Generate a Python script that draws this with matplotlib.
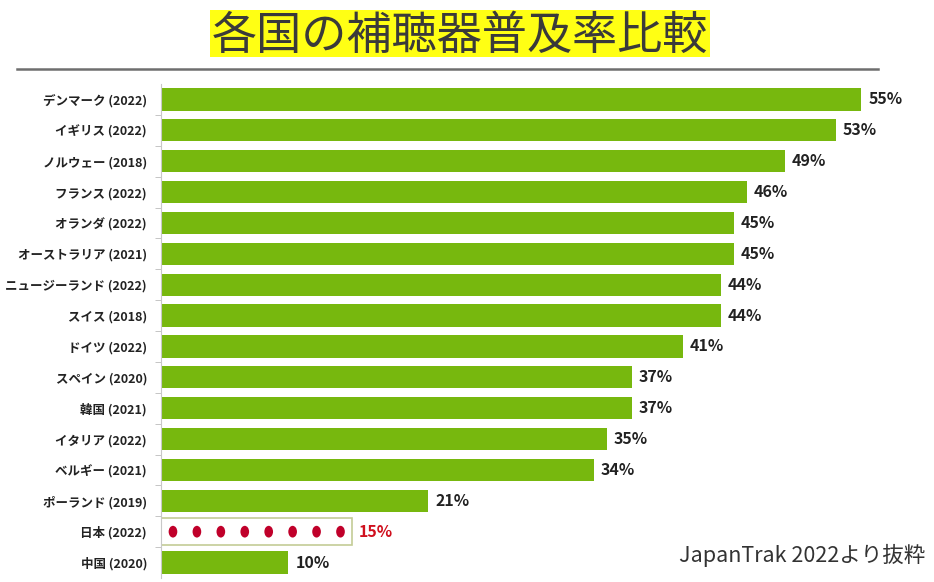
import numpy as np
import matplotlib.pyplot as plt
from matplotlib.patches import Rectangle, Ellipse
from matplotlib.lines import Line2D

plt.rcParams['font.family'] = ['Noto Sans CJK JP', 'DejaVu Sans']

# data
countries = ['デンマーク (2022)', 'イギリス (2022)', 'ノルウェー (2018)', 'フランス (2022)',
             'オランダ (2022)', 'オーストラリア (2021)', 'ニュージーランド (2022)', 'スイス (2018)',
             'ドイツ (2022)', 'スペイン (2020)', '韓国 (2021)', 'イタリア (2022)',
             'ベルギー (2021)', 'ポーランド (2019)', '日本 (2022)', '中国 (2020)']
values = [55, 53, 49, 46, 45, 45, 44, 44, 41, 37, 37, 35, 34, 21, 15, 10]
highlight = '日本 (2022)'
title = '各国の補聴器普及率比較'
source = 'JapanTrak 2022より抜粋'

green = '#77b80e'
red = '#c0002a'

W, H = 934, 582
fig = plt.figure(figsize=(W / 100, H / 100), dpi=100)

# title with yellow band
fig.patches.append(Rectangle((210 / W, 1 - 57 / H), 500 / W, 47 / H,
                             transform=fig.transFigure, facecolor='#ffff14',
                             edgecolor='none', zorder=0))
fig.text(460 / W, 1 - 36 / H, title, ha='center', va='center', fontsize=32.5,
         color='#3a3a3a')
fig.add_artist(Line2D([17 / W, 878 / W], [1 - 68.5 / H, 1 - 68.5 / H],
                      transform=fig.transFigure, color='#6e6e6e', lw=1.8))

ax = fig.add_axes([161 / W, 4 / H, 719 / W, 494 / H])
y = np.arange(len(countries))
for i, (c, v) in enumerate(zip(countries, values)):
    if c == highlight:
        ax.barh(i, v, height=0.88, color='white', edgecolor='#c3cc96', lw=1.2)
        n = 8
        xs = np.linspace(0.94, v - 0.9, n)
        for xd in xs:
            ax.add_patch(Ellipse((xd, i), width=0.68, height=0.38,
                                 facecolor=red, edgecolor='none'))
        ax.text(v + 0.55, i, f'{v}%', va='center', ha='left', fontsize=11.5,
                fontweight='bold', color='#d0101e')
    else:
        ax.barh(i, v, height=0.72, color=green)
        ax.text(v + 0.55, i, f'{v}%', va='center', ha='left', fontsize=11.5,
                fontweight='bold', color='#222222')

ax.set_xlim(0, 719 / 12.73)
ax.set_ylim(len(countries) - 0.5, -0.5)
ax.set_yticks(y)
ax.set_yticklabels(countries, fontsize=9, fontweight='bold', color='#222222')
ax.set_yticks(y[:-1] + 0.5, minor=True)
ax.tick_params(axis='y', which='major', length=0, pad=10)
ax.tick_params(axis='y', which='minor', length=4, color='#bbbbbb')
ax.set_xticks([])
for s in ['top', 'right', 'bottom']:
    ax.spines[s].set_visible(False)
ax.spines['left'].set_color('#c8c8c8')
ax.patch.set_alpha(0)

fig.text(925 / W, 1 - 555 / H, source, ha='right', va='center', fontsize=15.5,
         color='#333333')

fig.savefig('out.png', dpi=100)
